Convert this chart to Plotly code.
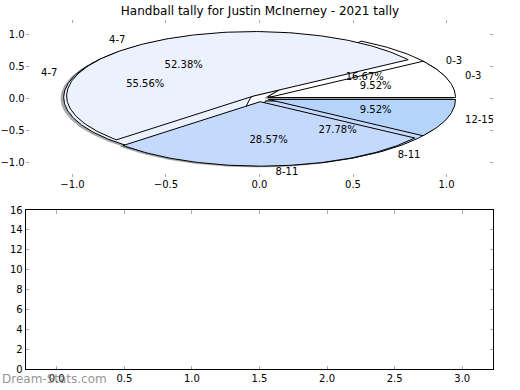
import numpy as np
import plotly.graph_objects as go

# ---- data ----
title_text = "Handball tally for Justin McInerney - 2021 tally"
labels_a = ["0-3", "4-7", "8-11"]
values_a = [3, 10, 5]
labels_b = ["0-3", "4-7", "8-11", "12-15"]
values_b = [2, 11, 6, 2]
category_colors = {"0-3": "#ffffff", "4-7": "#ebf1fd", "8-11": "#c5d9fc", "12-15": "#b4d4fc"}
pie_ticks = [-1.0, -0.5, 0.0, 0.5, 1.0]
bar_xticks = [0.0, 0.5, 1.0, 1.5, 2.0, 2.5, 3.0]
bar_yticks = [0, 2, 4, 6, 8, 10, 12, 14, 16]

EXPLODE = 0.05
FONT = "DejaVu Sans"

fig = go.Figure()


def wedges(labels, values):
    total = float(sum(values))
    out = []
    start = 0.0
    for lab, v in zip(labels, values):
        span = v / total * 360.0
        t1, t2 = start, start + span
        mid = np.deg2rad((t1 + t2) / 2)
        cx, cy = EXPLODE * np.cos(mid), EXPLODE * np.sin(mid)
        n = max(int(span) + 2, 3)
        th = np.deg2rad(np.linspace(t1, t2, n))
        xs = np.concatenate([[cx], cx + np.cos(th), [cx]])
        ys = np.concatenate([[cy], cy + np.sin(th), [cy]])
        out.append(dict(label=lab, pct=v / total * 100, mid=mid, cx=cx, cy=cy, xs=xs, ys=ys))
        start = t2
    return out


pie_a = wedges(labels_a, values_a)
pie_b = wedges(labels_b, values_b)


def shade(hexcol, a=0.45):
    h = hexcol.lstrip("#")
    r, g, b = (int(h[i:i + 2], 16) for i in (0, 2, 4))
    return f"rgba({int(r*0.3)},{int(g*0.3)},{int(b*0.3)},{a})"


# shadows (drawn below all wedges)
for pie in (pie_a, pie_b):
    for w in pie:
        fig.add_trace(go.Scatter(x=w["xs"] - 0.015, y=w["ys"] - 0.015, mode="lines", fill="toself",
                                 fillcolor=shade(category_colors[w["label"]]),
                                 line=dict(color=shade(category_colors[w["label"]]), width=0.5),
                                 hoverinfo="skip", showlegend=False, xaxis="x", yaxis="y"))
# wedges
for pie in (pie_a, pie_b):
    for w in pie:
        fig.add_trace(go.Scatter(x=w["xs"], y=w["ys"], mode="lines", fill="toself",
                                 fillcolor=category_colors[w["label"]],
                                 line=dict(color="black", width=1),
                                 hoverinfo="skip", showlegend=False, xaxis="x", yaxis="y"))
# texts
for pie in (pie_a, pie_b):
    for w in pie:
        px = w["cx"] + 0.6 * np.cos(w["mid"])
        py = w["cy"] + 0.6 * np.sin(w["mid"])
        fig.add_trace(go.Scatter(x=[px], y=[py], mode="text", text=[f"{w['pct']:.2f}%"],
                                 textposition="middle center",
                                 textfont=dict(family=FONT, size=10, color="black"),
                                 hoverinfo="skip", showlegend=False, xaxis="x", yaxis="y"))
        lx = w["cx"] + 1.1 * np.cos(w["mid"])
        ly = w["cy"] + 1.1 * np.sin(w["mid"])
        fig.add_trace(go.Scatter(x=[lx], y=[ly], mode="text", text=[w["label"]],
                                 textposition="middle right" if lx > 0 else "middle left",
                                 textfont=dict(family=FONT, size=10, color="black"),
                                 hoverinfo="skip", showlegend=False, xaxis="x", yaxis="y"))

# empty lower axes
fig.add_trace(go.Scatter(x=[], y=[], mode="markers", showlegend=False, xaxis="x2", yaxis="y2"))

tick_common = dict(ticks="inside", ticklen=3.5, tickwidth=1, tickcolor="#aaaaaa",
                   showgrid=False, zeroline=False, automargin=False,
                   tickfont=dict(family=FONT, size=10, color="black"))

fig.update_layout(
    width=520, height=390, autosize=False,
    margin=dict(l=0, r=0, t=0, b=0, pad=0),
    paper_bgcolor="white", plot_bgcolor="white",
    title=dict(text=title_text, x=0.5, xanchor="center", xref="paper", y=1 - 10.5 / 390,
               yref="paper", yanchor="middle", automargin=False,
               font=dict(family=FONT, size=12, color="black")),
    xaxis=dict(domain=[25.7 / 520, 493.3 / 520], range=[-1.25, 1.25], tickvals=pie_ticks,
               tickformat=".1f", showline=False, mirror="ticks", anchor="y", **tick_common),
    yaxis=dict(domain=[1 - 177.1 / 390, 1 - 19.9 / 390], range=[-1.22, 1.22], tickvals=pie_ticks,
               tickformat=".1f", showline=False, mirror="ticks", anchor="x", **tick_common),
    xaxis2=dict(domain=[25.7 / 520, 493.3 / 520], range=[-0.23, 3.23], tickvals=bar_xticks,
                tickformat=".1f", showline=True, linecolor="black", linewidth=1, mirror="ticks",
                anchor="y2", **tick_common),
    yaxis2=dict(domain=[1 - 369 / 390, 1 - 210 / 390], range=[0, 16], tickvals=bar_yticks,
                showline=True, linecolor="black", linewidth=1, mirror="ticks",
                anchor="x2", **tick_common),
    annotations=[dict(text="Dream-Stats.com", xref="paper", yref="paper", x=0, y=1 - 379 / 390,
                      xanchor="left", yanchor="middle", showarrow=False,
                      font=dict(family=FONT, size=12, color="rgba(120,120,120,0.8)"))],
)

fig.write_html("out.html", config={"displayModeBar": False},
               post_script="document.body.style.margin='0';document.body.style.padding='0';")
